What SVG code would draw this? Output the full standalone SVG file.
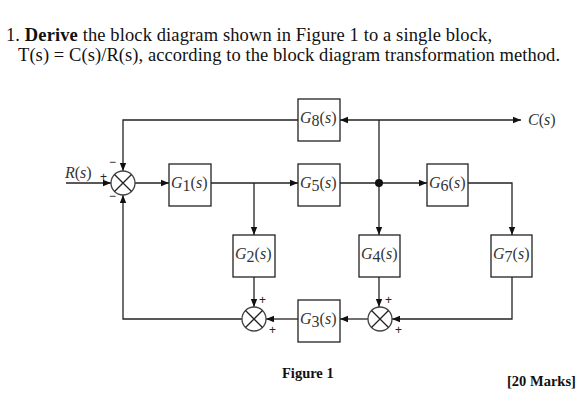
<svg xmlns="http://www.w3.org/2000/svg" width="586" height="409" viewBox="0 0 586 409">
<defs>
<marker id="ah" viewBox="0 0 10 10" refX="10" refY="5" markerWidth="8" markerHeight="8" markerUnits="userSpaceOnUse" orient="auto">
<path d="M0,1 L10,5 L0,9 Z" fill="#111"/>
</marker>
<style>
.blk{fill:#fff;stroke:#222;stroke-width:1.3}
.ln{fill:none;stroke:#222;stroke-width:1.3}
.sum{fill:#fff;stroke:#444;stroke-width:1.3}
.lbl{font-family:"Liberation Serif",serif;font-size:16px;fill:#333}
.sg{font-family:"Liberation Sans",sans-serif;font-size:12px;fill:#222}
.t{font-family:"Liberation Serif",serif;font-size:18.5px;fill:#111}
</style>
</defs>
<rect width="586" height="409" fill="#fff"/>
<text class="t" x="6" y="41" textLength="486" lengthAdjust="spacing">1. <tspan font-weight="bold">Derive</tspan> the block diagram shown in Figure 1 to a single block,</text>
<text class="t" x="18" y="61" textLength="542" lengthAdjust="spacing">T(s) = C(s)/R(s), according to the block diagram transformation method.</text>

<g id="connectors">
<line class="ln" x1="66" y1="183" x2="111" y2="183" marker-end="url(#ah)"/>
<line class="ln" x1="135" y1="183" x2="169" y2="183" marker-end="url(#ah)"/>
<line class="ln" x1="211" y1="183" x2="298" y2="183" marker-end="url(#ah)"/>
<polyline class="ln" points="254,183 254,235" marker-end="url(#ah)"/>
<polyline class="ln" points="340,183 427,183" marker-end="url(#ah)"/>
<polyline class="ln" points="468,183 512,183 512,235" marker-end="url(#ah)"/>
<polyline class="ln" points="379,120 379,235" marker-end="url(#ah)"/>
<line class="ln" x1="379" y1="120" x2="340" y2="120" marker-end="url(#ah)"/>
<line class="ln" x1="379" y1="120" x2="521" y2="120" marker-end="url(#ah)"/>
<polyline class="ln" points="298,120 123,120 123,171" marker-end="url(#ah)"/>
<polyline class="ln" points="512,277 512,319 392,319" marker-end="url(#ah)"/>
<line class="ln" x1="379" y1="277" x2="379" y2="307" marker-end="url(#ah)"/>
<line class="ln" x1="368" y1="319" x2="340" y2="319" marker-end="url(#ah)"/>
<line class="ln" x1="298" y1="319" x2="266" y2="319" marker-end="url(#ah)"/>
<line class="ln" x1="254" y1="277" x2="254" y2="307" marker-end="url(#ah)"/>
<polyline class="ln" points="242,319 123,319 123,195" marker-end="url(#ah)"/>
<circle cx="379" cy="183" r="4" fill="#111"/>
</g>

<g id="sum1">
<circle class="sum" cx="123" cy="183" r="12"/>
<path class="ln" stroke="#444" d="M114.5,174.5 L131.5,191.5 M131.5,174.5 L114.5,191.5"/>
<text class="sg" x="100" y="181">+</text>
<text class="sg" x="109" y="166">−</text>
<text class="sg" x="109" y="200">−</text>
</g>
<g id="sum2">
<circle class="sum" cx="254" cy="319" r="12"/>
<path class="ln" stroke="#444" d="M245.5,310.5 L262.5,327.5 M262.5,310.5 L245.5,327.5"/>
<text class="sg" x="259" y="304">+</text>
<text class="sg" x="269" y="334">+</text>
</g>
<g id="sum3">
<circle class="sum" cx="380" cy="319" r="12"/>
<path class="ln" stroke="#444" d="M371.5,310.5 L388.5,327.5 M388.5,310.5 L371.5,327.5"/>
<text class="sg" x="385" y="304">+</text>
<text class="sg" x="395" y="334">+</text>
</g>

<g id="R">
<text class="lbl" x="65" y="178"><tspan font-style="italic">R</tspan>(<tspan font-style="italic">s</tspan>)</text>
</g>
<g id="C">
<text class="lbl" x="528" y="125"><tspan font-style="italic">C</tspan>(<tspan font-style="italic">s</tspan>)</text>
</g>

<g id="G1">
<rect class="blk" x="169" y="164" width="42" height="42"/>
<text class="lbl" x="171" y="188"><tspan font-style="italic">G</tspan><tspan dy="3">1</tspan><tspan dy="-3">(</tspan><tspan font-style="italic">s</tspan>)</text>
</g>
<g id="G2">
<rect class="blk" x="233" y="235" width="42" height="42"/>
<text class="lbl" x="235" y="259"><tspan font-style="italic">G</tspan><tspan dy="3">2</tspan><tspan dy="-3">(</tspan><tspan font-style="italic">s</tspan>)</text>
</g>
<g id="G3">
<rect class="blk" x="298" y="300" width="42" height="42"/>
<text class="lbl" x="300" y="324"><tspan font-style="italic">G</tspan><tspan dy="3">3</tspan><tspan dy="-3">(</tspan><tspan font-style="italic">s</tspan>)</text>
</g>
<g id="G4">
<rect class="blk" x="359" y="235" width="41" height="42"/>
<text class="lbl" x="361" y="259"><tspan font-style="italic">G</tspan><tspan dy="3">4</tspan><tspan dy="-3">(</tspan><tspan font-style="italic">s</tspan>)</text>
</g>
<g id="G5">
<rect class="blk" x="298" y="164" width="42" height="42"/>
<text class="lbl" x="300" y="188"><tspan font-style="italic">G</tspan><tspan dy="3">5</tspan><tspan dy="-3">(</tspan><tspan font-style="italic">s</tspan>)</text>
</g>
<g id="G6">
<rect class="blk" x="427" y="164" width="41" height="42"/>
<text class="lbl" x="429" y="188"><tspan font-style="italic">G</tspan><tspan dy="3">6</tspan><tspan dy="-3">(</tspan><tspan font-style="italic">s</tspan>)</text>
</g>
<g id="G7">
<rect class="blk" x="491" y="235" width="41" height="42"/>
<text class="lbl" x="493" y="259"><tspan font-style="italic">G</tspan><tspan dy="3">7</tspan><tspan dy="-3">(</tspan><tspan font-style="italic">s</tspan>)</text>
</g>
<g id="G8">
<rect class="blk" x="298" y="99" width="42" height="42"/>
<text class="lbl" x="300" y="123"><tspan font-style="italic">G</tspan><tspan dy="3">8</tspan><tspan dy="-3">(</tspan><tspan font-style="italic">s</tspan>)</text>
</g>

<text x="282" y="378" font-family="Liberation Serif, serif" font-size="14.5" font-weight="bold" fill="#111">Figure 1</text>
<text x="507" y="386" font-family="Liberation Serif, serif" font-size="14.5" font-weight="bold" fill="#111">[20 Marks]</text>
</svg>
